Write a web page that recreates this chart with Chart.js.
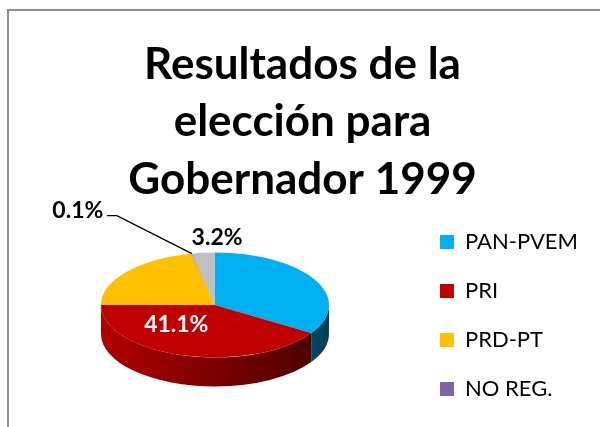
<!DOCTYPE html>
<html>
<head>
<meta charset="utf-8">
<script src="https://cdn.jsdelivr.net/npm/chart.js@4.4.1/dist/chart.umd.min.js"></script>
<style>
  html, body { margin: 0; padding: 0; background: #ffffff; }
  #wrap { position: relative; width: 600px; height: 427px; }
</style>
</head>
<body>
<div id="wrap"><canvas id="c" width="600" height="427"></canvas></div>
<script>
// ---- data ----
const categories = ['PAN-PVEM', 'PRI', 'PRD-PT', 'NO REG.', 'NULOS'];
const values = [34.0, 41.1, 21.6, 0.1, 3.2];
const colors = ['#00B0F0', '#C00000', '#FFC000', '#8064A2', '#BFBFBF'];
const titleLines = ['Resultados de la', 'elección para', 'Gobernador 1999'];
const legendCount = 4;           // the legend lists the first four categories
const labelledIndexes = [1, 3, 4]; // slices whose percentage is printed

// ---- styles ----
const TILT = 0.46;
const DEPTH = 29;
const FONT = "Lato, 'Open Sans', 'Liberation Sans', sans-serif";
const labelStyles = {
  1: { color: '#ffffff', radiusFactor: 0.55, dx: -21, dy: -8 },
  3: { color: '#000000', radiusFactor: 1.0, leader: true, textDx: -114, textDy: -43, elbowDx: -75, elbowDy: -38, endDx: -85 },
  4: { color: '#000000', radiusFactor: 1.3, dx: 17, dy: 0 }
};

function shade(hex, f) {
  const n = parseInt(hex.slice(1), 16);
  const r = Math.round(((n >> 16) & 255) * f);
  const g = Math.round(((n >> 8) & 255) * f);
  const b = Math.round((n & 255) * f);
  return `rgb(${r},${g},${b})`;
}

const frame = {
  id: 'frame',
  beforeDraw(chart) {
    const ctx = chart.ctx;
    ctx.save();
    ctx.fillStyle = '#ffffff';
    ctx.fillRect(0, 0, chart.width, chart.height);
    ctx.strokeStyle = '#8e8e8e';
    ctx.lineWidth = 2;
    ctx.beginPath();
    ctx.moveTo(chart.width, 10);
    ctx.lineTo(8, 10);
    ctx.lineTo(8, chart.height);
    ctx.stroke();
    ctx.restore();
  }
};

const pie3d = {
  id: 'pie3d',
  beforeDatasetsDraw(chart) {
    const ctx = chart.ctx;
    const arcs = chart.getDatasetMeta(0).data;
    if (!arcs.length) return;
    const { x: cx, y: cy, outerRadius: r } = arcs[0].getProps(['x', 'y', 'outerRadius'], true);
    const d = DEPTH / TILT;
    ctx.save();
    ctx.translate(cx, cy);
    ctx.scale(1, TILT);
    arcs.forEach((arc, i) => {
      const { startAngle: s, endAngle: e } = arc.getProps(['startAngle', 'endAngle'], true);
      const col = colors[i];
      for (const k of [-1, 0, 1]) {
        const off = k * 2 * Math.PI;
        const a1 = Math.max(s + off, 0);
        const a2 = Math.min(e + off, Math.PI);
        if (a2 <= a1) continue;
        const grad = ctx.createLinearGradient(-r, 0, r, 0);
        grad.addColorStop(0, shade(col, 0.92));
        grad.addColorStop(1, shade(col, 0.36));
        ctx.beginPath();
        ctx.arc(0, 0, r, a1, a2);
        ctx.lineTo(r * Math.cos(a2), r * Math.sin(a2) + d);
        ctx.arc(0, d, r, a2, a1, true);
        ctx.closePath();
        ctx.fillStyle = grad;
        ctx.fill();
      }
    });
    ctx.restore();
    ctx.save();
    ctx.translate(cx, cy);
    ctx.scale(1, TILT);
    ctx.translate(-cx, -cy);
  },
  afterDatasetsDraw(chart) {
    const ctx = chart.ctx;
    ctx.restore();
    const arcs = chart.getDatasetMeta(0).data;
    if (!arcs.length) return;
    ctx.save();
    ctx.font = `bold 23px ${FONT}`;
    ctx.textAlign = 'center';
    ctx.textBaseline = 'middle';
    labelledIndexes.forEach(i => {
      const st = labelStyles[i];
      const { x: cx, y: cy, outerRadius: r, startAngle: s, endAngle: e } =
        arcs[i].getProps(['x', 'y', 'outerRadius', 'startAngle', 'endAngle'], true);
      const mid = (s + e) / 2;
      const px = cx + Math.cos(mid) * r * st.radiusFactor;
      const py = cy + Math.sin(mid) * r * st.radiusFactor * TILT;
      const text = values[i].toFixed(1) + '%';
      ctx.fillStyle = st.color;
      if (st.leader) {
        ctx.strokeStyle = '#000000';
        ctx.lineWidth = 1.3;
        ctx.beginPath();
        ctx.moveTo(px, py);
        ctx.lineTo(px + st.elbowDx, py + st.elbowDy);
        ctx.lineTo(px + st.endDx, py + st.elbowDy);
        ctx.stroke();
        ctx.fillText(text, px + st.textDx, py + st.textDy);
      } else {
        ctx.fillText(text, px + st.dx, py + st.dy);
      }
    });
    ctx.restore();
  }
};

new Chart(document.getElementById('c'), {
  type: 'pie',
  data: {
    labels: categories,
    datasets: [{
      data: values,
      backgroundColor: colors,
      borderWidth: 0
    }]
  },
  options: {
    responsive: false,
    animation: false,
    radius: 114,
    layout: { padding: { left: 17, right: 12, top: 0, bottom: 0 } },
    plugins: {
      title: {
        display: true,
        text: titleLines,
        color: '#000000',
        font: { family: FONT, size: 44, weight: 'bold', lineHeight: 1.307 },
        padding: { top: 36, bottom: -25.5 }
      },
      legend: {
        display: true,
        position: 'right',
        align: 'end',
        labels: {
          color: '#000000',
          font: { family: FONT, size: 22 },
          boxWidth: 14,
          boxHeight: 14,
          padding: 27,
          filter: (item) => item.index < legendCount
        }
      },
      tooltip: { enabled: false }
    }
  },
  plugins: [frame, pie3d]
});
</script>
</body>
</html>
